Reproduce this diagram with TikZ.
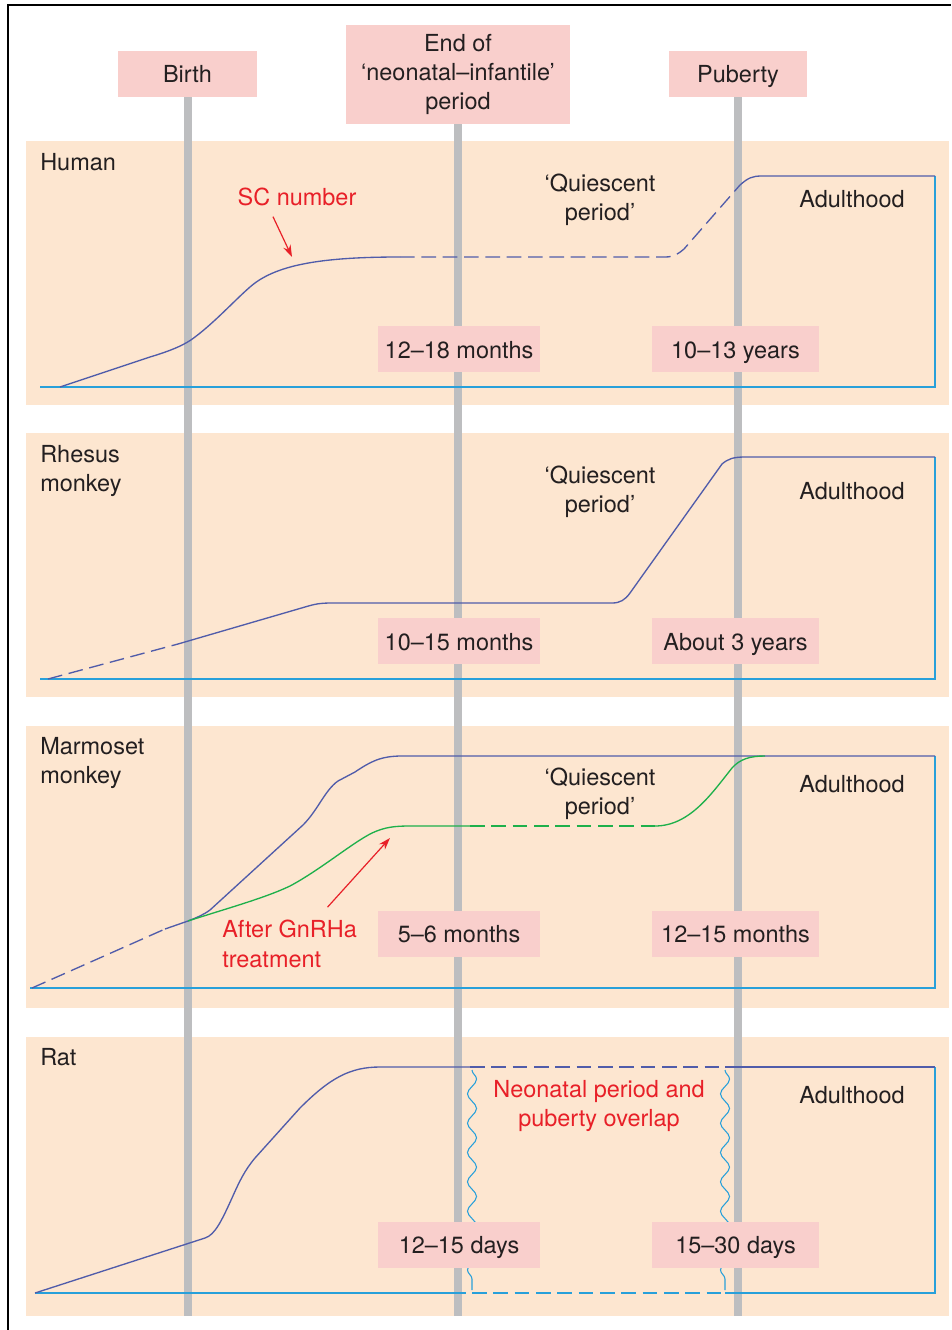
\documentclass[tikz,border=0pt]{standalone}
\usepackage{fontspec}
\setmainfont{TeX Gyre Heros}
\usepackage{xcolor}
\usetikzlibrary{positioning,calc,backgrounds,arrows.meta,decorations.pathmorphing}

\definecolor{panelfill}{RGB}{253,230,208}
\definecolor{agepink}{RGB}{249,207,204}
\definecolor{bargrey}{RGB}{189,190,192}
\definecolor{scblue}{RGB}{80,92,170}
\definecolor{baseblue}{RGB}{40,160,218}
\definecolor{gnrhgreen}{RGB}{30,176,75}
\definecolor{labelred}{RGB}{232,32,40}
\definecolor{inkgrey}{RGB}{35,31,32}
\newcommand{\figfont}{\fontsize{17.6}{22}\selectfont}

\begin{document}
\begin{tikzpicture}[x=0.75pt, y=-0.75pt,
		% Style definitions
		panel/.style={fill=panelfill},
		bar/.style={draw=bargrey, line width=6pt},
		eventbox/.style={rectangle, fill=agepink, minimum width=104pt,
			minimum height=34.5pt, align=center, font=\figfont, text=inkgrey,
			text height=15pt, text depth=1.5pt},
		agebox/.style={rectangle, fill=agepink, minimum width=121.5pt,
			minimum height=34.5pt, font=\figfont, text=inkgrey,
			text height=15pt, text depth=1.5pt},
		txt/.style={font=\figfont, text=inkgrey, inner sep=0pt},
		note/.style={font=\figfont, text=labelred, inner sep=0pt},
		curve/.style={draw=scblue, line width=1pt},
		treated/.style={draw=gnrhgreen, line width=1pt},
		axis/.style={draw=baseblue, line width=1pt},
		unseen/.style={dash pattern=on 11pt off 5pt},
		wave/.style={draw=baseblue, line width=0.8pt,
			decorate, decoration={snake, amplitude=3.4pt, segment length=22pt}},
		redarrow/.style={-{Stealth[length=9pt,width=6pt]}, draw=labelred, line width=0.9pt}
		]
		\useasboundingbox (0,0) rectangle (951,1330);
		\draw[line width=1.5pt] (8,1330) -- (8,5) -- (951,5);
		
		% Species panels
		\begin{scope}[on background layer]
			\fill[panel] (26,141) rectangle (949,405);
			\fill[panel] (26,433) rectangle (949,697);
			\fill[panel] (26,726) rectangle (949,1008);
			\fill[panel] (26,1037) rectangle (949,1316);
		\end{scope}
		
		% Events
		\node[eventbox] (birth) at (187.5,74) {Birth};
		\node[eventbox, minimum width=168pt, minimum height=74.25pt,
			text height=, text depth=] (endneo) at (458,74.5) {End of\\‘neonatal–infantile’\\period};
		\node[eventbox] (puberty) at (738,74) {Puberty};
		
		% Time bars
		\coordinate (floor) at (0,1316);
		\begin{scope}[on background layer]
			\foreach \ev in {birth,endneo,puberty}
			\draw[bar] (\ev.south) -- (\ev.south |- floor);
		\end{scope}
		
		% Human
		\node[txt, anchor=base west] (human) at (40,171) {Human};
		\draw[axis] (40,387) -- (935,387) -- (935,176);
		\draw[curve] (60,387) -- (150,357) .. controls (170,351) and (185,345) .. (195,337)
			.. controls (215,322) and (235,300) .. (250,287) .. controls (275,265) and (320,257) .. (400,257);
		\draw[curve, unseen] (400,257) -- (665,257) .. controls (674,257) and (678,254) .. (684,249) -- (740,185);
		\draw[curve] (740,185) .. controls (748,178) and (752,176) .. (762,176) -- (935,176);
		\node[note, anchor=base] (sclabel) at (297,206) {SC number};
		\coordinate (sctip) at (292,257);
		\draw[redarrow] ($(sclabel.south)+(-24,10)$) -- (sctip);
		\node[txt, align=center] (humanquiet) at (600,200) {‘Quiescent\\period’};
		\node[txt, anchor=base] (humanadult) at (852,208) {Adulthood};
		\node[agebox] (humanneo) at (459,349) {12–18 months};
		\node[agebox, minimum width=125.25pt] (humanpub) at (735.5,349) {10–13 years};
		
		% Rhesus monkey
		\node[txt, align=left, anchor=west] (rhesus) at (40,471) {Rhesus\\monkey};
		\draw[axis] (40,679) -- (935,679) -- (935,457);
		\draw[curve, unseen] (48,679) -- (178,644);
		\draw[curve] (178,644) -- (305,607) .. controls (315,604) and (320,603) .. (332,603) -- (612,603)
			.. controls (620,603) and (625,600) .. (630,593) -- (722,464)
			.. controls (728,459) and (733,457) .. (745,457) -- (935,457);
		\node[txt, align=center] (rhesusquiet) at (600,492) {‘Quiescent\\period’};
		\node[txt, anchor=base] (rhesusadult) at (852,499) {Adulthood};
		\node[agebox] (rhesusneo) at (459,641) {10–15 months};
		\node[agebox, minimum width=125.25pt] (rhesuspub) at (735.5,641) {About 3 years};
		
		% Marmoset monkey
		\node[txt, align=left, anchor=west] (marmoset) at (40,763) {Marmoset\\monkey};
		\draw[axis] (30,988) -- (935,988) -- (935,756);
		\draw[curve, unseen] (32,988) -- (165,929);
		\draw[curve] (165,929) -- (188,921) .. controls (198,917) and (203,915) .. (210,910) -- (303,825)
			.. controls (318,810) and (325,790) .. (338,781) -- (355,772)
			.. controls (370,762) and (380,756) .. (402,756) -- (935,756);
		\draw[treated] (188,921) .. controls (225,909) and (265,898) .. (290,886)
			.. controls (320,870) and (352,843) .. (372,833) .. controls (385,827) and (395,826) .. (410,826) -- (470,826);
		\draw[treated, unseen] (470,826) -- (655,826);
		\draw[treated] (655,826) .. controls (690,826) and (712,793) .. (732,768)
			.. controls (740,759) and (750,756) .. (765,756);
		\node[note, align=left, anchor=west] (gnrhlabel) at (222,944) {After GnRHa\\treatment};
		\coordinate (gnrhtip) at (390,838);
		\draw[redarrow] ($(gnrhlabel.north)+(38,-13)$) -- (gnrhtip);
		\node[txt, align=center] (marmosetquiet) at (600,794) {‘Quiescent\\period’};
		\node[txt, anchor=base] (marmosetadult) at (852,792) {Adulthood};
		\node[agebox] (marmosetneo) at (459,933.5) {5–6 months};
		\node[agebox, minimum width=125.25pt] (marmosetpub) at (735.5,933.5) {12–15 months};
		
		% Rat
		\node[txt, anchor=base west] (rat) at (40,1065) {Rat};
		\draw[axis] (35,1293) -- (466,1293);
		\draw[axis, unseen] (472,1293) -- (722,1293);
		\draw[axis] (725,1293) -- (935,1293) -- (935,1067);
		\draw[curve] (35,1293) -- (205,1238) .. controls (215,1235) and (222,1220) .. (232,1198)
			.. controls (240,1180) and (245,1170) .. (255,1158) -- (300,1108)
			.. controls (330,1078) and (350,1067) .. (380,1067) -- (470,1067);
		\draw[curve, unseen] (470,1067) -- (722,1067);
		\draw[curve] (725,1067) -- (935,1067);
		\draw[wave] (472,1070) -- (472,1290);
		\draw[wave] (725,1070) -- (725,1290);
		\node[note, align=center] (overlap) at (599,1106) {Neonatal period and\\puberty overlap};
		\node[txt, anchor=base] (ratadult) at (852,1103) {Adulthood};
		\node[agebox] (ratneo) at (459,1244.5) {12–15 days};
		\node[agebox, minimum width=125.25pt] (ratpub) at (735.5,1244.5) {15–30 days};
		
	\end{tikzpicture}
\end{document}
